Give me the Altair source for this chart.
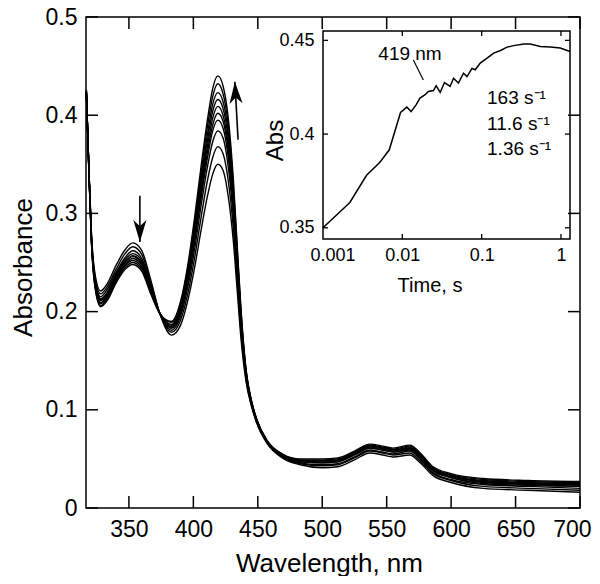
import altair as alt
import pandas as pd

FONT = "Liberation Sans"

# ---------------- main panel data ----------------
wavelength = [317, 319, 321, 324, 328, 333, 340, 347, 353, 360, 367,
              374, 383, 390, 396, 401, 406, 411, 415, 419, 423, 427,
              431, 434, 437, 441, 445, 449, 457, 469, 483, 500, 512,
              525, 537, 547, 555, 568, 576, 586, 600, 625, 660, 700]

spectrum_1 = [.420, .345, .278, .236, .221, .228, .247, .263, .270, .262, .232,
              .198, .176, .186, .213, .245, .283, .318, .340, .350, .344, .318,
              .272, .222, .172, .128, .104, .087, .066, .051, .044, .041, .042,
              .049, .056, .054, .052, .054, .046, .033, .026, .020, .018, .016]
spectrum_2 = [.421, .344, .276, .233, .218, .225, .243, .259, .266, .258, .229,
              .198, .179, .191, .220, .255, .296, .334, .357, .368, .361, .334,
              .285, .231, .178, .130, .105, .088, .067, .052, .045, .043, .044,
              .051, .058, .056, .054, .056, .048, .035, .028, .022, .020, .018]
spectrum_3 = [.422, .343, .274, .231, .215, .222, .240, .255, .262, .254, .227,
              .198, .181, .195, .227, .264, .308, .348, .373, .384, .377, .348,
              .296, .239, .183, .133, .106, .088, .067, .053, .046, .044, .045,
              .052, .059, .057, .055, .058, .050, .036, .029, .024, .022, .020]
spectrum_4 = [.423, .343, .273, .229, .213, .219, .238, .253, .259, .252, .225,
              .198, .183, .198, .232, .271, .316, .357, .384, .395, .387, .358,
              .304, .245, .187, .134, .107, .089, .068, .053, .047, .046, .047,
              .054, .061, .059, .057, .059, .051, .038, .031, .025, .023, .022]
spectrum_5 = [.423, .342, .272, .228, .212, .218, .237, .251, .257, .250, .224,
              .198, .184, .200, .234, .275, .321, .363, .390, .402, .394, .364,
              .308, .249, .189, .135, .107, .089, .068, .053, .047, .046, .047,
              .054, .061, .059, .057, .060, .052, .038, .031, .026, .024, .022]
spectrum_6 = [.424, .342, .271, .227, .211, .217, .235, .250, .256, .248, .223,
              .198, .185, .202, .237, .279, .326, .369, .397, .409, .400, .370,
              .313, .252, .192, .136, .108, .090, .068, .054, .048, .047, .048,
              .055, .062, .060, .058, .061, .053, .039, .032, .027, .025, .023]
spectrum_7 = [.424, .341, .271, .226, .209, .216, .234, .248, .254, .247, .222,
              .198, .186, .204, .240, .282, .331, .375, .404, .416, .407, .377,
              .318, .256, .194, .137, .108, .090, .068, .054, .048, .048, .049,
              .056, .063, .061, .059, .061, .053, .040, .033, .027, .025, .024]
spectrum_8 = [.425, .341, .270, .225, .208, .214, .232, .247, .252, .245, .221,
              .198, .187, .205, .243, .286, .336, .381, .411, .423, .414, .383,
              .323, .259, .196, .138, .109, .090, .068, .054, .049, .048, .049,
              .056, .063, .061, .059, .062, .054, .040, .033, .028, .026, .025]
spectrum_9 = [.425, .340, .269, .223, .206, .213, .231, .245, .250, .243, .219,
              .198, .189, .208, .247, .292, .342, .389, .419, .432, .422, .391,
              .329, .264, .199, .139, .109, .091, .069, .055, .049, .049, .050,
              .057, .064, .062, .060, .063, .055, .041, .034, .029, .027, .026]
spectrum_10 = [.426, .340, .268, .222, .205, .211, .229, .243, .248, .241, .218,
               .198, .190, .210, .250, .296, .348, .396, .427, .440, .430, .398,
               .335, .268, .202, .140, .110, .091, .069, .055, .050, .050, .051,
               .058, .065, .063, .061, .064, .056, .042, .035, .030, .028, .027]

spectra = [spectrum_1, spectrum_2, spectrum_3, spectrum_4, spectrum_5,
           spectrum_6, spectrum_7, spectrum_8, spectrum_9, spectrum_10]

x_ticks = [350, 400, 450, 500, 550, 600, 650, 700]
y_ticks = [0, 0.1, 0.2, 0.3, 0.4, 0.5]
x_domain = [316.7, 700]
y_domain = [0, 0.5]

# arrows (shaft start -> tip)
arrow_wl = [358.5, 434.7]
arrow_A = [0.318, 0.375]
arrow_tip_wl = [358.5, 432.2]
arrow_tip_A = [0.271, 0.434]

# ---------------- inset data ----------------
kin_t = [0.001, 0.00218, 0.00354, 0.00522, 0.00685, 0.0095, 0.0114, 0.0129, 0.0149,
         0.0167, 0.0194, 0.0213, 0.0247, 0.0267, 0.030, 0.034, 0.040, 0.0442,
         0.051, 0.059, 0.0654, 0.0755, 0.083, 0.096, 0.117, 0.142, 0.173,
         0.209, 0.254, 0.34, 0.41, 0.55, 0.735, 0.98, 1.13, 1.3]
kin_A = [0.350, 0.3635, 0.378, 0.385, 0.3916, 0.4115, 0.4144, 0.412, 0.4156,
         0.4192, 0.421, 0.4227, 0.4232, 0.4258, 0.4222, 0.4275, 0.4254, 0.4298,
         0.4272, 0.4325, 0.4307, 0.435, 0.4343, 0.4379, 0.4405, 0.4432, 0.4446,
         0.4464, 0.4472, 0.4481, 0.4481, 0.4467, 0.4464, 0.4459, 0.445, 0.4441]
inset_x_ticks = [0.001, 0.01, 0.1, 1]
inset_y_ticks = [0.35, 0.4, 0.45]
inset_x_domain = [0.001, 1.3]
inset_y_domain = [0.344, 0.455]

rate_labels = ["163 s\u207b\u00b9", "11.6 s\u207b\u00b9", "1.36 s\u207b\u00b9"]
rate_t = [0.117, 0.117, 0.117]
rate_A = [0.4195, 0.4054, 0.392]
wl_label = ["419 nm"]
wl_label_t = [0.0125]
wl_label_A = [0.4427]
leader_t = [0.01377, 0.0184]
leader_A = [0.4395, 0.4289]

for s in spectra:
    assert len(s) == len(wavelength)
assert len(kin_t) == len(kin_A)

# ---------------- geometry (plot area of the main panel) ----------------
W, H = 494, 491
INSET_X_RANGE = [237, 484]
INSET_Y_RANGE = [222, 14]

# ---------------- build tables ----------------
rows = []
for i, s in enumerate(spectra):
    for w, a in zip(wavelength, s):
        rows.append({"wl": w, "A": a, "scan": i})
spec_df = pd.DataFrame(rows)


def xs():
    return alt.Scale(domain=x_domain, nice=False, zero=False)


def ys():
    return alt.Scale(domain=y_domain, nice=False, zero=False)


def ixs():
    return alt.Scale(type="log", domain=inset_x_domain, range=INSET_X_RANGE, nice=False)


def iys():
    return alt.Scale(domain=inset_y_domain, range=INSET_Y_RANGE, nice=False, zero=False)


lines = alt.Chart(spec_df).mark_line(color="black", strokeWidth=1.4, interpolate="monotone").encode(
    x=alt.X("wl:Q", scale=xs(), axis=alt.Axis(
        title="Wavelength, nm", values=x_ticks, labelFontSize=23, labelPadding=10,
        labelFlush=True, labelFlushOffset=11, labelOverlap=False, titleFontSize=26,
        titleX=243, titleY=63, titleBaseline="alphabetic")),
    y=alt.Y("A:Q", scale=ys(), axis=alt.Axis(
        title="Absorbance", values=y_ticks, format=".1~f", labelFontSize=23,
        labelPadding=9, labelOverlap=False, titleFontSize=26,
        titleX=-55, titleY=250, titleBaseline="alphabetic")),
    detail="scan:N",
)

xt_df = pd.DataFrame({"v": x_ticks, "lo": y_domain[0], "hi": y_domain[1]})
yt_df = pd.DataFrame({"v": y_ticks, "lo": x_domain[0], "hi": x_domain[1]})
TL = 12
tick_bottom = alt.Chart(xt_df).mark_rule(color="black", strokeWidth=1.5, y2Offset=-TL).encode(
    x=alt.X("v:Q", scale=xs(), axis=None), y=alt.Y("lo:Q", scale=ys(), axis=None), y2="lo:Q")
tick_top = alt.Chart(xt_df).mark_rule(color="black", strokeWidth=1.5, y2Offset=TL).encode(
    x=alt.X("v:Q", scale=xs(), axis=None), y=alt.Y("hi:Q", scale=ys(), axis=None), y2="hi:Q")
tick_left = alt.Chart(yt_df).mark_rule(color="black", strokeWidth=1.5, x2Offset=TL).encode(
    y=alt.Y("v:Q", scale=ys(), axis=None), x=alt.X("lo:Q", scale=xs(), axis=None), x2="lo:Q")
tick_right = alt.Chart(yt_df).mark_rule(color="black", strokeWidth=1.5, x2Offset=-TL).encode(
    y=alt.Y("v:Q", scale=ys(), axis=None), x=alt.X("hi:Q", scale=xs(), axis=None), x2="hi:Q")

arrow_df = pd.DataFrame({"x0": arrow_wl, "y0": arrow_A, "x1": arrow_tip_wl, "y1": arrow_tip_A})
shafts = alt.Chart(arrow_df).mark_rule(color="black", strokeWidth=1.6).encode(
    x=alt.X("x0:Q", scale=xs(), axis=None), y=alt.Y("y0:Q", scale=ys(), axis=None),
    x2="x1:Q", y2="y1:Q")
head_down = alt.Chart(arrow_df.iloc[[0]]).mark_point(
    shape="M0,0 L0.3,-1 L0,-0.72 L-0.3,-1 Z", filled=True, size=1900, opacity=1,
    color="black", strokeWidth=0).encode(
    x=alt.X("x1:Q", scale=xs(), axis=None), y=alt.Y("y1:Q", scale=ys(), axis=None))
head_up = alt.Chart(arrow_df.iloc[[1]]).mark_point(
    shape="M0,0 L0.3,1 L0,0.72 L-0.3,1 Z", filled=True, size=1900, opacity=1,
    color="black", strokeWidth=0, angle=356.8).encode(
    x=alt.X("x1:Q", scale=xs(), axis=None), y=alt.Y("y1:Q", scale=ys(), axis=None))

# ---------------- inset ----------------
kin_df = pd.DataFrame({"t": kin_t, "A": kin_A})
inset_line = alt.Chart(kin_df).mark_line(color="black", strokeWidth=1.5).encode(
    x=alt.X("t:Q", scale=ixs(), axis=alt.Axis(
        orient="bottom", offset=INSET_Y_RANGE[0] - H, values=inset_x_ticks, format="~g",
        labelFontSize=18, labelPadding=7, labelFlush=True, labelFlushOffset=13,
        labelOverlap=False, title="Time, s", titleFontSize=20,
        titleX=343.5, titleY=52, titleBaseline="alphabetic")),
    y=alt.Y("A:Q", scale=iys(), axis=alt.Axis(
        orient="left", offset=-INSET_X_RANGE[0], values=inset_y_ticks, format="~g",
        labelFontSize=18, labelPadding=9, labelOverlap=False, title="Abs",
        titleFontSize=24, titleX=-41, titleY=123, titleBaseline="alphabetic")),
)

frame_df = pd.DataFrame({"t0": [inset_x_domain[0]], "t1": [inset_x_domain[1]],
                         "a0": [inset_y_domain[0]], "a1": [inset_y_domain[1]]})
inset_frame = alt.Chart(frame_df).mark_rect(fillOpacity=0, stroke="black", strokeWidth=1.5).encode(
    x=alt.X("t0:Q", scale=ixs(), axis=None), x2="t1:Q",
    y=alt.Y("a0:Q", scale=iys(), axis=None), y2="a1:Q")

ixt_df = pd.DataFrame({"v": inset_x_ticks[1:], "lo": inset_y_domain[0], "hi": inset_y_domain[1]})
iyt_df = pd.DataFrame({"v": inset_y_ticks, "lo": inset_x_domain[0], "hi": inset_x_domain[1]})
ITL = 5
itick_bottom = alt.Chart(ixt_df).mark_rule(color="black", strokeWidth=1.3, y2Offset=-ITL).encode(
    x=alt.X("v:Q", scale=ixs(), axis=None), y=alt.Y("lo:Q", scale=iys(), axis=None), y2="lo:Q")
itick_top = alt.Chart(ixt_df).mark_rule(color="black", strokeWidth=1.3, y2Offset=ITL).encode(
    x=alt.X("v:Q", scale=ixs(), axis=None), y=alt.Y("hi:Q", scale=iys(), axis=None), y2="hi:Q")
itick_left = alt.Chart(iyt_df).mark_rule(color="black", strokeWidth=1.3, x2Offset=ITL).encode(
    y=alt.Y("v:Q", scale=iys(), axis=None), x=alt.X("lo:Q", scale=ixs(), axis=None), x2="lo:Q")
itick_right = alt.Chart(iyt_df).mark_rule(color="black", strokeWidth=1.3, x2Offset=-ITL).encode(
    y=alt.Y("v:Q", scale=iys(), axis=None), x=alt.X("hi:Q", scale=ixs(), axis=None), x2="hi:Q")

wl_df = pd.DataFrame({"t": wl_label_t, "A": wl_label_A, "text": wl_label})
wl_text = alt.Chart(wl_df).mark_text(font=FONT, fontSize=19, color="black",
                                     align="center", baseline="middle").encode(
    x=alt.X("t:Q", scale=ixs(), axis=None), y=alt.Y("A:Q", scale=iys(), axis=None), text="text:N")
lead_df = pd.DataFrame({"t0": [leader_t[0]], "a0": [leader_A[0]], "t1": [leader_t[1]], "a1": [leader_A[1]]})
leader = alt.Chart(lead_df).mark_rule(color="black", strokeWidth=1.2).encode(
    x=alt.X("t0:Q", scale=ixs(), axis=None), y=alt.Y("a0:Q", scale=iys(), axis=None),
    x2="t1:Q", y2="a1:Q")
rate_df = pd.DataFrame({"t": rate_t, "A": rate_A, "text": rate_labels})
rate_text = alt.Chart(rate_df).mark_text(font=FONT, fontSize=19, color="black",
                                         align="left", baseline="middle").encode(
    x=alt.X("t:Q", scale=ixs(), axis=None), y=alt.Y("A:Q", scale=iys(), axis=None), text="text:N")

chart = alt.layer(
    lines, tick_bottom, tick_top, tick_left, tick_right, shafts, head_down, head_up,
    inset_line, inset_frame, itick_bottom, itick_top, itick_left, itick_right,
    wl_text, leader, rate_text,
).resolve_scale(x="independent", y="independent").properties(
    width=W, height=H,
    autosize=alt.AutoSizeParams(type="none"),
    padding={"left": 78, "top": 9, "right": 12, "bottom": 68},
    background="white",
).configure_view(stroke="black", strokeWidth=1.5).configure_axis(
    labelFont=FONT, titleFont=FONT, labelColor="black", titleColor="black",
    titleFontWeight="normal", grid=False, ticks=False, domain=False,
)

chart.save("out.html", embed_options={"renderer": "svg", "actions": False})
